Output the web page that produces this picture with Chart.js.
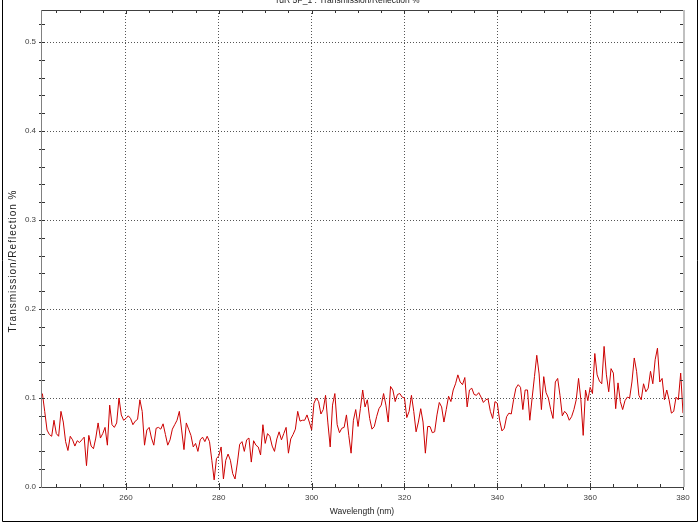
<!DOCTYPE html>
<html>
<head>
<meta charset="utf-8">
<title>Transmission/Reflection %</title>
<script src="https://cdn.jsdelivr.net/npm/chart.js@4"></script>
<style>
    html, body { margin: 0; padding: 0; background: #ffffff; }
    #wrap { width: 700px; height: 525px; }
</style>
</head>
<body>
<div id="wrap"><canvas id="spectrum" width="700" height="525"></canvas></div>
<script>
// Sampling grid of the spectrum (nm)
const startWavelength = 242;
const stepWavelength = 0.5;

// Transmission/Reflection values, one per 0.5 nm from 242 to 380 nm
const transmission = [
    0.105, 0.085, 0.064, 0.059, 0.057, 0.075, 0.06, 0.057, 0.085, 0.073,
    0.051, 0.041, 0.057, 0.053, 0.046, 0.052, 0.05, 0.053, 0.056, 0.024,
    0.058, 0.046, 0.043, 0.055, 0.072, 0.055, 0.06, 0.067, 0.047, 0.092,
    0.07, 0.067, 0.072, 0.1, 0.081, 0.075, 0.077, 0.08, 0.077, 0.07,
    0.074, 0.076, 0.098, 0.085, 0.047, 0.064, 0.067, 0.055, 0.047, 0.066,
    0.067, 0.065, 0.071, 0.059, 0.047, 0.053, 0.065, 0.07, 0.075, 0.085,
    0.064, 0.042, 0.072, 0.065, 0.058, 0.045, 0.049, 0.04, 0.053, 0.056,
    0.051,
    0.057, 0.051, 0.03, 0.008, 0.032, 0.035, 0.045, 0.009, 0.03, 0.037,
    0.03, 0.015, 0.009, 0.027, 0.048, 0.051, 0.04, 0.053, 0.055, 0.028,
    0.052, 0.047, 0.045, 0.036, 0.07, 0.049, 0.06, 0.057, 0.046, 0.04,
    0.054, 0.062, 0.053, 0.06, 0.067, 0.038, 0.054, 0.059, 0.065, 0.085,
    0.074, 0.075, 0.075, 0.081, 0.073, 0.064, 0.094, 0.1, 0.096, 0.082,
    0.087, 0.103, 0.072, 0.045, 0.092, 0.105, 0.07, 0.061, 0.066, 0.067,
    0.081, 0.058, 0.038, 0.075, 0.087, 0.068, 0.088, 0.109,
    0.09, 0.098, 0.077, 0.065, 0.068, 0.079, 0.088, 0.092, 0.105, 0.092,
    0.073, 0.113, 0.109, 0.096, 0.104, 0.105, 0.101, 0.1, 0.078, 0.085,
    0.103, 0.085, 0.062, 0.073, 0.088, 0.073, 0.038, 0.068, 0.068, 0.061,
    0.062, 0.081, 0.095, 0.09, 0.073, 0.087, 0.102, 0.096, 0.109, 0.116,
    0.126, 0.118, 0.115, 0.123, 0.09, 0.109, 0.111, 0.104, 0.103, 0.106,
    0.101, 0.095, 0.098, 0.099, 0.085, 0.077, 0.096, 0.094, 0.075, 0.063,
    0.066, 0.079, 0.083, 0.082, 0.098, 0.111, 0.115, 0.112, 0.087,
    0.109, 0.109, 0.075, 0.1, 0.124, 0.148, 0.127, 0.087, 0.124, 0.106,
    0.1, 0.087, 0.077, 0.118, 0.122, 0.103, 0.08, 0.085, 0.082, 0.075,
    0.079, 0.087, 0.098, 0.122, 0.098, 0.058, 0.109, 0.097, 0.112, 0.105,
    0.15, 0.126, 0.119, 0.116, 0.158, 0.126, 0.107, 0.133, 0.128, 0.088,
    0.117, 0.096, 0.087, 0.097, 0.101, 0.1, 0.118, 0.145, 0.13, 0.103,
    0.098, 0.116, 0.107, 0.111, 0.13, 0.116, 0.143, 0.156, 0.118, 0.122,
    0.098, 0.109, 0.098, 0.083, 0.085, 0.101, 0.098, 0.128, 0.083
];

// Axis ranges and ticks
const xRange = [241.7, 380];
const yRange = [0, 0.536];
const xMajorStep = 20;
const xMinorStep = 5;
const yMajorStep = 0.1;
const yMinorStep = 0.02;

const chartTitle = 'rdR 5P_1 : Transmission/Reflection %';
const xTitle = 'Wavelength (nm)';
const yTitle = 'Transmission/Reflection %';

const points = transmission.map((v, i) => ({ x: startWavelength + i * stepWavelength, y: v }));

// tick values between two bounds
function tickValues(min, max, step) {
    const out = [];
    const first = Math.ceil(min / step - 1e-6) * step;
    for (let v = first; v <= max + 1e-6; v += step) out.push(+v.toFixed(4));
    return out;
}

// frame, mirrored ticks and texts
const framePlugin = {
    id: 'frame',
    afterDraw(chart) {
        const { ctx, chartArea: a, scales: { x, y } } = chart;
        ctx.save();
        ctx.lineWidth = 1;

        // tick marks
        ctx.strokeStyle = '#333';
        const xMajor = tickValues(xRange[0], xRange[1], xMajorStep);
        const yMajor = tickValues(yRange[0], yRange[1], yMajorStep);
        tickValues(xRange[0], xRange[1], xMinorStep).forEach(v => {
            const px = Math.round(x.getPixelForValue(v)) + 0.5;
            const major = xMajor.some(m => Math.abs(m - v) < 1e-6);
            ctx.beginPath();
            ctx.moveTo(px, a.bottom - (major ? 4 : 3));
            ctx.lineTo(px, a.bottom + (major ? 3 : 1));
            ctx.moveTo(px, a.top);
            ctx.lineTo(px, a.top + (major ? 4 : 3));
            ctx.stroke();
        });
        tickValues(yRange[0], yRange[1], yMinorStep).forEach(v => {
            const py = Math.round(y.getPixelForValue(v)) + 0.5;
            const major = yMajor.some(m => Math.abs(m - v) < 1e-6);
            ctx.beginPath();
            ctx.moveTo(a.left - 2, py);
            ctx.lineTo(a.left + 4, py);
            ctx.moveTo(a.right - (major ? 4 : 3), py);
            ctx.lineTo(a.right, py);
            ctx.stroke();
        });

        // plot box
        ctx.strokeStyle = '#404040';
        ctx.beginPath();
        ctx.moveTo(a.left, a.top + 0.5);
        ctx.lineTo(a.right, a.top + 0.5);
        ctx.moveTo(a.left, a.bottom + 0.5);
        ctx.lineTo(a.right + 1, a.bottom + 0.5);
        ctx.stroke();
        ctx.strokeStyle = '#808080';
        ctx.beginPath();
        ctx.moveTo(a.left + 0.5, a.top);
        ctx.lineTo(a.left + 0.5, a.bottom + 1);
        ctx.stroke();
        ctx.strokeStyle = '#c0c0c0';
        ctx.lineWidth = 2;
        ctx.beginPath();
        ctx.moveTo(a.right + 1, a.top);
        ctx.lineTo(a.right + 1, a.bottom);
        ctx.stroke();

        // outer frame
        ctx.strokeStyle = '#000';
        ctx.lineWidth = 1;
        ctx.beginPath();
        ctx.moveTo(2.5, 0);
        ctx.lineTo(2.5, 521.5);
        ctx.lineTo(697.5, 521.5);
        ctx.lineTo(697.5, 0);
        ctx.stroke();

        // texts
        ctx.fillStyle = '#222';
        ctx.textAlign = 'center';
        ctx.textBaseline = 'alphabetic';
        ctx.font = '8.5px "Liberation Sans", Arial, sans-serif';
        ctx.fillText(chartTitle, 348, 3);
        ctx.textBaseline = 'middle';
        ctx.fillText(xTitle, (a.left + a.right) / 2, 511.5);
        ctx.translate(13.5, 261);
        ctx.rotate(-Math.PI / 2);
        ctx.font = '10px "Liberation Sans", Arial, sans-serif';
        ctx.letterSpacing = '1px';
        ctx.fillText(yTitle, 0, 0);
        ctx.restore();
    }
};

new Chart(document.getElementById('spectrum'), {
    type: 'line',
    data: {
        datasets: [{
            label: yTitle,
            data: points,
            borderColor: '#cc0000',
            borderWidth: 1,
            pointRadius: 0,
            tension: 0,
            fill: false
        }]
    },
    options: {
        responsive: false,
        animation: false,
        devicePixelRatio: 1,
        layout: { padding: { left: 0, top: 10, right: 17, bottom: 0 } },
        plugins: {
            legend: { display: false },
            title: { display: false },
            tooltip: { enabled: false }
        },
        scales: {
            x: {
                type: 'linear',
                min: xRange[0],
                max: xRange[1],
                afterFit(scale) { scale.height = 38; },
                grid: { color: '#555', drawTicks: false },
                border: { display: false, dash: [1, 2] },
                ticks: {
                    stepSize: xMajorStep,
                    includeBounds: false,
                    padding: 6,
                    color: '#404040',
                    font: { family: '"Liberation Sans", Arial, sans-serif', size: 8 },
                    callback: v => String(v)
                }
            },
            y: {
                type: 'linear',
                min: yRange[0],
                max: yRange[1],
                afterFit(scale) { scale.width = 41; },
                grid: { color: '#555', drawTicks: false },
                border: { display: false, dash: [1, 2] },
                ticks: {
                    stepSize: yMajorStep,
                    includeBounds: false,
                    padding: 5,
                    color: '#404040',
                    font: { family: '"Liberation Sans", Arial, sans-serif', size: 8 },
                    callback: v => v.toFixed(1)
                }
            }
        }
    },
    plugins: [framePlugin]
});
</script>
</body>
</html>
